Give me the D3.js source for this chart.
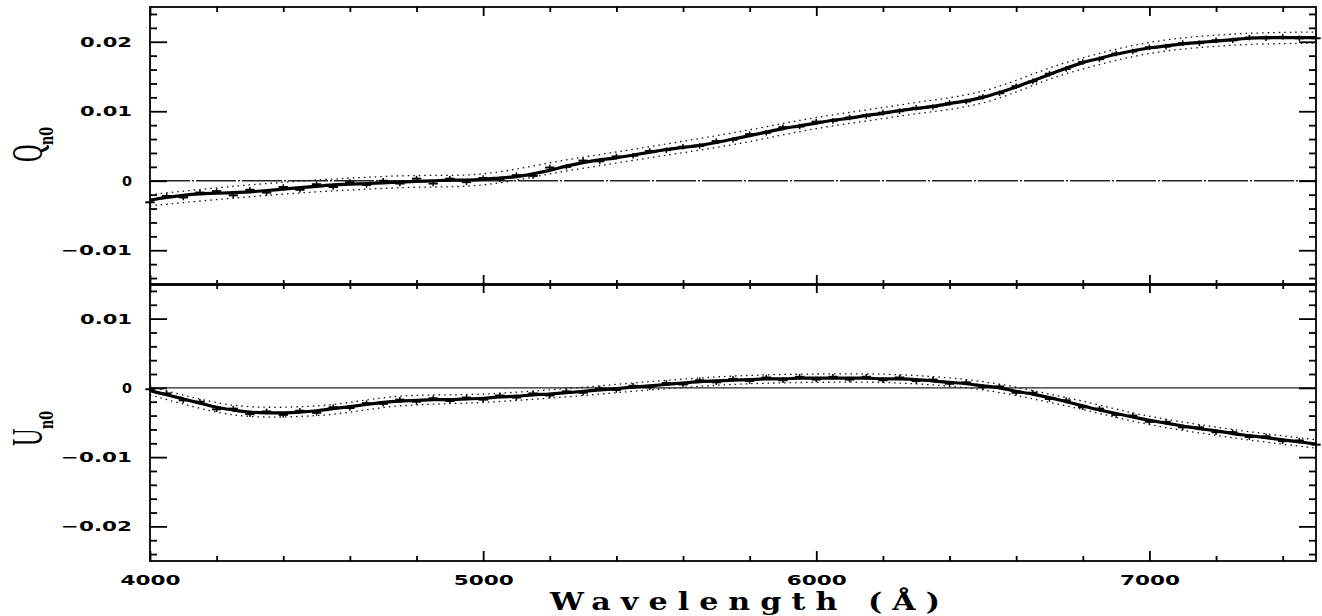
<!DOCTYPE html>
<html>
<head>
<meta charset="utf-8">
<script src="https://cdn.jsdelivr.net/npm/d3@7"></script>
<style>
  html, body { margin: 0; padding: 0; background: #fff; }
  svg { display: block; }
</style>
</head>
<body>
<svg id="chart" width="1322" height="616"></svg>
<script>
// ---------------- DATA ----------------
const wavelengths = [4000,4050,4100,4150,4200,4250,4300,4350,4400,4450,4500,4550,4600,4650,4700,4750,4800,4850,4900,4950,
  5000,5050,5100,5150,5200,5250,5300,5350,5400,5450,5500,5550,5600,5650,5700,5750,5800,5850,5900,5950,
  6000,6050,6100,6150,6200,6250,6300,6350,6400,6450,6500,6550,6600,6650,6700,6750,6800,6850,6900,6950,
  7000,7050,7100,7150,7200,7250,7300,7350,7400,7450,7500];

// Q_n0 fitted curve (solid)
const qFit = [-0.0028,-0.0024,-0.0021,-0.0019,-0.0018,-0.0017,-0.0016,-0.0014,-0.0012,-0.0010,-0.0008,-0.0006,-0.0005,-0.0004,-0.0003,-0.0002,-0.0001,0.0000,0.0001,0.0001,
  0.0002,0.0004,0.0006,0.0010,0.0015,0.0021,0.0026,0.0030,0.0033,0.0037,0.0041,0.0045,0.0048,0.0051,0.0055,0.0060,0.0065,0.0070,0.0075,0.0079,
  0.0083,0.0087,0.0090,0.0094,0.0097,0.0101,0.0104,0.0107,0.0111,0.0115,0.0120,0.0127,0.0135,0.0144,0.0153,0.0162,0.0170,0.0176,0.0182,0.0187,
  0.0191,0.0194,0.0197,0.0199,0.0201,0.0203,0.0205,0.0206,0.0206,0.0206,0.0206];

// Q_n0 observed points
const qObs = [-0.0031,-0.0022,-0.0024,-0.0017,-0.0015,-0.0021,-0.0013,-0.0017,-0.0009,-0.0013,-0.0005,-0.0009,-0.0002,-0.0006,0.0000,-0.0004,0.0003,-0.0004,0.0003,-0.0002,
  0.0004,0.0002,0.0008,0.0007,0.0019,0.0020,0.0029,0.0028,0.0035,0.0036,0.0043,0.0044,0.0049,0.0050,0.0057,0.0059,0.0067,0.0069,0.0077,0.0078,
  0.0085,0.0086,0.0091,0.0093,0.0098,0.0100,0.0105,0.0106,0.0112,0.0114,0.0121,0.0126,0.0136,0.0143,0.0154,0.0161,0.0171,0.0175,0.0183,0.0186,
  0.0192,0.0193,0.0198,0.0198,0.0202,0.0202,0.0206,0.0205,0.0207,0.0205,0.0205];

// U_n0 fitted curve (solid)
const uFit = [-0.0004,-0.0010,-0.0016,-0.0022,-0.0028,-0.0032,-0.0035,-0.0036,-0.0036,-0.0035,-0.0033,-0.0030,-0.0027,-0.0024,-0.0021,-0.0019,-0.0018,-0.0017,-0.0017,-0.0016,
  -0.0015,-0.0013,-0.0012,-0.0010,-0.0009,-0.0007,-0.0005,-0.0003,-0.0001,0.0001,0.0003,0.0005,0.0007,0.0009,0.0010,0.0011,0.0012,0.0013,0.0013,0.0014,
  0.0014,0.0014,0.0014,0.0014,0.0013,0.0013,0.0012,0.0010,0.0008,0.0006,0.0003,0.0000,-0.0005,-0.0009,-0.0014,-0.0020,-0.0026,-0.0032,-0.0037,-0.0042,
  -0.0047,-0.0051,-0.0055,-0.0059,-0.0062,-0.0066,-0.0069,-0.0072,-0.0075,-0.0078,-0.0081];

// U_n0 observed points
const uObs = [-0.0002,-0.0008,-0.0018,-0.0020,-0.0031,-0.0030,-0.0038,-0.0034,-0.0039,-0.0033,-0.0036,-0.0028,-0.0029,-0.0022,-0.0023,-0.0017,-0.0020,-0.0015,-0.0019,-0.0014,
  -0.0017,-0.0011,-0.0014,-0.0008,-0.0011,-0.0005,-0.0007,-0.0001,-0.0003,0.0003,0.0001,0.0007,0.0005,0.0011,0.0008,0.0013,0.0010,0.0015,0.0011,0.0016,
  0.0012,0.0016,0.0012,0.0016,0.0011,0.0015,0.0010,0.0012,0.0006,0.0008,0.0001,0.0002,-0.0007,-0.0007,-0.0016,-0.0018,-0.0028,-0.0030,-0.0039,-0.0040,
  -0.0049,-0.0049,-0.0057,-0.0057,-0.0064,-0.0064,-0.0071,-0.0070,-0.0077,-0.0076,-0.0082];

// dotted envelopes
const envWavelengths = [4000,4250,4500,4750,5000,5250,5500,5750,6000,6250,6500,6750,7000,7250,7500];
const qUpper = [-0.0020,-0.0008,0.0001,0.0007,0.0010,0.0030,0.0049,0.0069,0.0091,0.0109,0.0129,0.0170,0.0199,0.0211,0.0214];
const qLower = [-0.0036,-0.0025,-0.0016,-0.0010,-0.0006,0.0014,0.0033,0.0052,0.0075,0.0093,0.0112,0.0154,0.0183,0.0195,0.0198];
const uUpper = [0.0002,-0.0025,-0.0026,-0.0012,-0.0009,-0.0001,0.0009,0.0017,0.0020,0.0019,0.0009,-0.0014,-0.0041,-0.0060,-0.0075];
const uLower = [-0.0010,-0.0039,-0.0040,-0.0026,-0.0021,-0.0013,-0.0003,0.0005,0.0008,0.0007,-0.0003,-0.0026,-0.0053,-0.0072,-0.0087];

// ticks and labels
const xMajorTicks = [4000,5000,6000,7000];
const xTickLabels = ["4000","5000","6000","7000"];
const qMajorTicks = [-0.01,0,0.01,0.02];
const qTickLabels = ["\u22120.01","0","0.01","0.02"];
const uMajorTicks = [-0.02,-0.01,0,0.01];
const uTickLabels = ["\u22120.02","\u22120.01","0","0.01"];
const xLabel = "Wavelength (\u00C5)";

// ---------------- DRAW ----------------
const svg = d3.select("#chart");
const X0 = 150, X1 = 1316;
const x = d3.scaleLinear().domain([4000, 7500]).range([X0, X1]);
const yQ = d3.scaleLinear().domain([-0.015, 0.025]).range([285, 7]);
const yU = d3.scaleLinear().domain([-0.025, 0.015]).range([561, 284]);

const xMinor = d3.range(4200, 7500, 200).filter(v => v % 1000 !== 0);
const yMinorQ = d3.range(-14, 25, 2).map(v => v / 1000).filter(v => Math.abs(Math.round(v * 1000)) % 10 !== 0);
const yMinorU = d3.range(-24, 15, 2).map(v => v / 1000).filter(v => Math.abs(Math.round(v * 1000)) % 10 !== 0);

function labelWidth(s) {
  if (s === "0") return 10;
  if (s.startsWith("\u2212")) return 71;
  if (s.length === 4 && s.indexOf(".") < 0) return 60;
  return 52;
}

function styleAxis(g) {
  g.select(".domain").remove();
  g.selectAll(".tick line").attr("stroke", "#000").attr("stroke-width", 1.8);
  g.selectAll(".tick text")
    .attr("fill", "#000")
    .attr("font-family", "'DejaVu Sans', sans-serif")
    .attr("font-weight", "bold")
    .attr("font-size", 14)
    .attr("lengthAdjust", "spacingAndGlyphs")
    .attr("textLength", function() { return labelWidth(d3.select(this).text()); });
}

function drawPanel(y, fit, obs, upper, lower, majorY, labelsY, minorY, top, bottom, showXLabels, dashZero) {
  const g = svg.append("g");

  // zero line
  g.append("line")
    .attr("x1", X0).attr("x2", X1).attr("y1", y(0)).attr("y2", y(0))
    .attr("stroke", "#222").attr("stroke-width", 1.4)
    .attr("stroke-dasharray", dashZero ? "40,2,2,2" : null);

  // dotted envelopes
  const envLine = d3.line().x((d, i) => x(envWavelengths[i])).y(d => y(d)).curve(d3.curveCatmullRom);
  [upper, lower].forEach(arr => {
    g.append("path").attr("d", envLine(arr))
      .attr("fill", "none").attr("stroke", "#111").attr("stroke-width", 1.3)
      .attr("stroke-dasharray", "1.5,4");
  });

  // observed points: small binned bars with error bars
  const pts = g.append("g");
  obs.forEach((v, i) => {
    const wx = wavelengths[i];
    pts.append("line")
      .attr("x1", x(wx - 14)).attr("x2", x(wx + 14)).attr("y1", y(v)).attr("y2", y(v))
      .attr("stroke", "#000").attr("stroke-width", 2);
    pts.append("line")
      .attr("x1", x(wx)).attr("x2", x(wx)).attr("y1", y(v + 0.0004)).attr("y2", y(v - 0.0004))
      .attr("stroke", "#000").attr("stroke-width", 1.5);
  });

  // fitted curve
  const fitLine = d3.line().x((d, i) => x(wavelengths[i])).y(d => y(d)).curve(d3.curveCatmullRom);
  g.append("path").attr("d", fitLine(fit))
    .attr("fill", "none").attr("stroke", "#000").attr("stroke-width", 3.2);

  // axes: left
  const yMajorFmt = d => labelsY[majorY.indexOf(d)];
  g.append("g").attr("transform", `translate(${X0},0)`)
    .call(d3.axisLeft(y).tickValues(majorY).tickFormat(yMajorFmt).tickSize(-17).tickPadding(18))
    .call(styleAxis);
  g.append("g").attr("transform", `translate(${X0},0)`)
    .call(d3.axisLeft(y).tickValues(minorY).tickFormat("").tickSize(-7))
    .call(styleAxis);
  // right
  g.append("g").attr("transform", `translate(${X1},0)`)
    .call(d3.axisRight(y).tickValues(majorY).tickFormat("").tickSize(-17))
    .call(styleAxis);
  g.append("g").attr("transform", `translate(${X1},0)`)
    .call(d3.axisRight(y).tickValues(minorY).tickFormat("").tickSize(-7))
    .call(styleAxis);
  // top
  g.append("g").attr("transform", `translate(0,${top})`)
    .call(d3.axisTop(x).tickValues(xMajorTicks).tickFormat("").tickSize(-9))
    .call(styleAxis);
  g.append("g").attr("transform", `translate(0,${top})`)
    .call(d3.axisTop(x).tickValues(xMinor).tickFormat("").tickSize(-5))
    .call(styleAxis);
  // bottom
  g.append("g").attr("transform", `translate(0,${bottom})`)
    .call(d3.axisBottom(x).tickValues(xMajorTicks)
      .tickFormat(d => showXLabels ? xTickLabels[xMajorTicks.indexOf(d)] : "")
      .tickSize(-10).tickPadding(14))
    .call(styleAxis);
  g.append("g").attr("transform", `translate(0,${bottom})`)
    .call(d3.axisBottom(x).tickValues(xMinor).tickFormat("").tickSize(-5))
    .call(styleAxis);

  // frame
  g.append("rect")
    .attr("x", X0).attr("y", top).attr("width", X1 - X0).attr("height", bottom - top)
    .attr("fill", "none").attr("stroke", "#000").attr("stroke-width", 1.8);
}

drawPanel(yQ, qFit, qObs, qUpper, qLower, qMajorTicks, qTickLabels, yMinorQ, yQ.range()[1], yQ.range()[0], false, true);
drawPanel(yU, uFit, uObs, uUpper, uLower, uMajorTicks, uTickLabels, yMinorU, yU.range()[1], yU.range()[0], true, false);

// y-axis titles (rotated, condensed serif)
function yTitle(letter, cy) {
  const t = svg.append("g").attr("transform", `translate(42,${cy + 16}) rotate(-90)`);
  t.append("text")
    .attr("transform", "scale(0.55,1)")
    .attr("font-family", "'Liberation Serif', 'Times New Roman', serif")
    .attr("font-size", 44).attr("fill", "#000")
    .text(letter);
  t.append("text")
    .attr("x", 17).attr("y", 11)
    .attr("font-family", "'DejaVu Serif', serif")
    .attr("font-weight", "bold")
    .attr("font-size", 19).attr("fill", "#000")
    .attr("textLength", 18).attr("lengthAdjust", "spacingAndGlyphs")
    .text("n0");
}
yTitle("Q", 146);
yTitle("U", 430);

// x-axis title
svg.append("text")
  .attr("x", 550).attr("y", 610)
  .attr("font-family", "'DejaVu Serif', serif")
  .attr("font-weight", "bold")
  .attr("font-size", 24)
  .attr("letter-spacing", 8)
  .attr("fill", "#000")
  .attr("textLength", 400).attr("lengthAdjust", "spacingAndGlyphs")
  .text(xLabel);
</script>
</body>
</html>
